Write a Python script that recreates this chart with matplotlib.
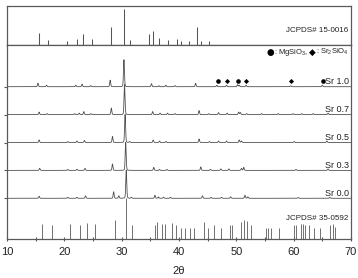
import numpy as np
import matplotlib
matplotlib.use("Agg")
import matplotlib.pyplot as plt
from matplotlib import font_manager as fm
from matplotlib.offsetbox import TextArea, HPacker, AnnotationBbox

# ---------------- data ----------------
samples = ["Sr 0.0", "Sr 0.3", "Sr 0.5", "Sr 0.7", "Sr 1.0"]

# peak positions (2theta) and heights (arbitrary units) for each sample
pk_00_pos = [15.6, 20.6, 22.2, 23.7, 28.6, 29.5, 30.8, 31.7, 35.8, 36.4, 37.3, 38.5,
             44.1, 45.6, 47.4, 49.0, 51.5, 52.0, 60.8, 66.3]
pk_00_hgt = [2.0, 1.0, 1.0, 2.5, 6.5, 2.5, 28.0, 1.0, 3.0, 1.5, 1.2, 1.0,
             2.5, 1.0, 1.0, 1.5, 3.0, 1.5, 0.8, 1.0]

pk_03_pos = [15.7, 20.6, 22.2, 23.6, 28.4, 30.7, 35.6, 36.6, 37.9,
             43.8, 45.5, 47.3, 48.7, 50.9, 51.3, 60.4, 66.0]
pk_03_hgt = [2.0, 1.0, 1.2, 2.0, 6.5, 28.0, 3.0, 1.0, 1.0,
             3.5, 1.0, 1.5, 1.5, 2.0, 3.0, 1.0, 1.5]

pk_05_pos = [15.6, 20.6, 22.2, 23.5, 28.4, 30.6, 31.4, 35.5, 36.6, 37.7,
             43.5, 45.3, 46.9, 48.3, 50.5, 50.9, 60.1, 65.8]
pk_05_hgt = [2.5, 1.0, 1.5, 2.0, 6.0, 28.0, 1.0, 2.5, 1.5, 1.0,
             3.5, 1.0, 1.5, 1.5, 2.5, 1.5, 1.0, 1.5]

pk_07_pos = [15.6, 17.0, 21.8, 22.6, 23.4, 24.6, 28.2, 30.5, 35.4, 36.7, 38.0, 39.3,
             43.5, 45.2, 46.9, 48.4, 50.4, 50.7, 51.8, 54.4, 57.3, 59.9, 61.4, 63.4, 66.0]
pk_07_hgt = [2.5, 1.0, 1.0, 1.5, 3.0, 1.0, 6.5, 30.0, 3.0, 1.5, 1.5, 1.0,
             4.0, 1.0, 2.0, 1.5, 2.5, 2.0, 1.0, 1.0, 1.0, 1.0, 1.0, 1.0, 1.5]

pk_10_pos = [15.4, 16.9, 22.0, 23.1, 24.6, 28.0, 30.4, 35.2, 36.5, 37.7, 39.3,
             42.9, 46.6, 48.3, 50.2, 50.5, 51.7, 59.5, 65.0]
pk_10_hgt = [3.5, 1.5, 1.5, 2.5, 1.2, 6.5, 27.0, 3.0, 1.0, 1.5, 1.2,
             3.3, 1.5, 1.5, 2.0, 1.5, 1.5, 1.0, 1.5]

# phase markers on Sr 1.0 pattern
mgsio3_pos = [46.8, 50.3, 65.2]
sr2sio4_pos = [48.3, 51.7, 59.5]

# JCPDS 15-0016 reference sticks (top panel)
ref_top_pos = [15.65, 17.2, 20.5, 22.2, 23.2, 24.9, 28.15, 30.36, 31.5, 34.7, 35.4,
               36.5, 38.0, 39.7, 40.3, 41.8, 43.2, 43.9, 45.3]
ref_top_hgt = [12.4, 4.7, 4.4, 5.7, 11.4, 5.7, 17.7, 35.7, 4.7, 11.0, 14.0,
               6.7, 5.4, 5.7, 4.0, 4.0, 18.0, 4.0, 4.0]

# JCPDS 35-0592 reference sticks (bottom)
ref_bot_pos = [16.05, 17.8, 21.05, 22.7, 24.0, 25.4, 28.9, 30.77, 31.8, 35.8, 36.1,
               37.0, 37.6, 38.8, 39.4, 40.4, 41.1, 41.9, 42.6, 44.4, 45.1, 46.1, 47.3,
               48.9, 49.2, 50.8, 51.4, 51.9, 52.5, 55.2, 55.6, 56.0, 57.4, 60.0, 60.4,
               61.2, 61.6, 62.0, 62.7, 63.5, 64.6, 66.4, 66.8, 67.2]
ref_bot_hgt = [15.4, 13.7, 14.7, 14.0, 16.4, 14.7, 19.4, 41.0, 14.0, 13.7, 17.4,
               15.0, 15.3, 15.7, 14.0, 11.3, 11.3, 11.3, 11.3, 17.0, 11.3, 13.7, 11.3,
               13.7, 13.7, 17.0, 18.7, 17.7, 13.7, 11.3, 11.3, 11.3, 11.3, 13.7, 13.7,
               14.7, 15.3, 13.7, 13.7, 11.3, 11.3, 13.7, 14.7, 12.0]

xticks = [10, 20, 30, 40, 50, 60, 70]
top_label = "JCPDS# 15-0016"
bot_label = "JCPDS# 35-0592"
legend_parts = ["\u25CF", ": MgSiO$_3$, ", "\u25C6", ": Sr$_2$SiO$_4$"]
xlabel = "2\u03b8"

# ---------------- fonts ----------------
names = {f.name for f in fm.fontManager.ttflist}
narrow = "Liberation Sans Narrow" if "Liberation Sans Narrow" in names else "Liberation Sans"
plt.rcParams["font.family"] = ["Liberation Sans", "DejaVu Sans"]
plt.rcParams["mathtext.fontset"] = "custom"
plt.rcParams["mathtext.rm"] = "Liberation Sans"
plt.rcParams["mathtext.it"] = "Liberation Sans:italic"
plt.rcParams["mathtext.default"] = "rm"

# ---------------- helpers ----------------
tt = np.linspace(10, 70, 3001)


def profile(pos, hgt, w=0.085):
    y = np.zeros_like(tt)
    for p, h in zip(pos, hgt):
        g = np.exp(-0.5 * ((tt - p) / w) ** 2)
        l = 1.0 / (1.0 + ((tt - p) / w) ** 2)
        y += h * (0.75 * g + 0.25 * l)
    return y


peak_sets = [(pk_00_pos, pk_00_hgt), (pk_03_pos, pk_03_hgt), (pk_05_pos, pk_05_hgt),
             (pk_07_pos, pk_07_hgt), (pk_10_pos, pk_10_hgt)]

W, H = 358, 278
fig = plt.figure(figsize=(W / 100, H / 100), dpi=100)
L, R = 7, 351
T, SEP, B = 6, 45, 239
ax_top = fig.add_axes([L / W, 1 - SEP / H, (R - L) / W, (SEP - T) / H])
ax = fig.add_axes([L / W, 1 - B / H, (R - L) / W, (B - SEP) / H])

spine_c = "#5a5a5a"
line_c = "#505050"
txt_c = "#222222"
for a in (ax_top, ax):
    for s in a.spines.values():
        s.set_color(spine_c)
        s.set_linewidth(0.9)
    a.set_xlim(10, 70)

# top panel
ax_top.set_ylim(0, SEP - T)
ax_top.vlines(ref_top_pos, 0, ref_top_hgt, color="#555555", lw=0.75)
ax_top.set_xticks([])
ax_top.set_yticks([])
ax_top.text(69.6, 15, top_label, ha="right", va="center", fontsize=5.8,
            family=[narrow, "DejaVu Sans"], color=txt_c)

# main panel
ax.set_ylim(0, B - SEP)
base0, step = 40.7, 27.9
offsets = [base0 + step * i for i in range(len(samples))]
for (pos, hgt), off, name in zip(peak_sets, offsets, samples):
    ax.plot(tt, profile(pos, hgt) + off, color=line_c, lw=0.6)
    ax.text(69.6, off + 0.8, name, ha="right", va="bottom", fontsize=6.5,
            family=[narrow, "DejaVu Sans"], color=txt_c)

ax.vlines(ref_bot_pos, 0, ref_bot_hgt, color="#666666", lw=0.65)
ax.text(69.6, 20.5, bot_label, ha="right", va="center", fontsize=5.8,
        family=[narrow, "DejaVu Sans"], color=txt_c)

mk_y = offsets[-1] + 6.0
ax.plot(mgsio3_pos, [mk_y] * len(mgsio3_pos), "o", color="black", ms=3.3, mew=0)
ax.plot(sr2sio4_pos, [mk_y] * len(sr2sio4_pos), "D", color="black", ms=2.6, mew=0)

# legend made of text pieces
boxes = []
for i, part in enumerate(legend_parts):
    if i % 2 == 0:
        props = dict(fontsize=6.3, color="black", family="DejaVu Sans")
    else:
        props = dict(fontsize=5.5, color=txt_c, family=narrow)
    boxes.append(TextArea(part, textprops=props))
pack = HPacker(children=boxes, align="center", pad=0, sep=0)
ab = AnnotationBbox(pack, (69.6, B - 52), xycoords="data", box_alignment=(1.0, 0.5),
                    frameon=False, pad=0)
ax.add_artist(ab)

ax.set_xticks(xticks)
ax.set_xticks([15, 25, 35, 45, 55, 65], minor=True)
ax.tick_params(axis="x", which="both", direction="inout", length=3.5, width=0.8,
               color=spine_c, pad=4, labelsize=8, labelcolor=txt_c)
for lbl in ax.get_xticklabels():
    lbl.set_family([narrow, "DejaVu Sans"])
ax.set_yticks(offsets)
ax.set_yticklabels([])
ax.tick_params(axis="y", direction="out", length=2, width=0.8, color=spine_c)

fig.text((L + R) / 2 / W, 1 - 266 / H, xlabel, ha="center", va="top", fontsize=8,
         color=txt_c)

fig.savefig("out.png", dpi=100)
